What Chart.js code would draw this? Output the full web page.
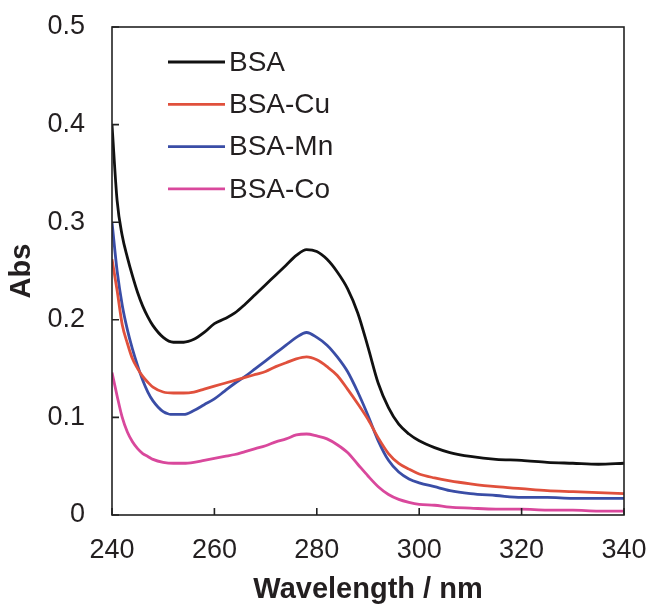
<!DOCTYPE html>
<html>
<head>
<meta charset="utf-8">
<script src="https://cdn.jsdelivr.net/npm/chart.js@4"></script>
<style>
  html, body { margin: 0; padding: 0; background: #fff; }
  #wrap { width: 651px; height: 605px; }
</style>
</head>
<body>
<div id="wrap"><canvas id="c" width="651" height="605"></canvas></div>
<script>
// Wavelength grid (nm)
const wavelength = [240, 241, 242, 243, 244, 245, 246, 247, 248, 250, 252, 254, 256, 258, 260,
  262, 264, 266, 268, 270, 272, 274, 276, 278, 280, 282, 284, 286, 288, 290, 292, 294, 296, 298,
  300, 303, 306, 310, 315, 320, 325, 330, 335, 340];

// Absorbance of each sample
const absBSA = [0.400, 0.322, 0.286, 0.264, 0.245, 0.228, 0.214, 0.203, 0.194, 0.182, 0.177, 0.177,
  0.180, 0.187, 0.196, 0.201, 0.207, 0.216, 0.226, 0.236, 0.246, 0.256, 0.266, 0.272, 0.270, 0.262,
  0.249, 0.232, 0.207, 0.172, 0.135, 0.110, 0.093, 0.083, 0.076, 0.069, 0.064, 0.060, 0.057, 0.056,
  0.054, 0.053, 0.052, 0.053];
const absCu = [0.262, 0.230, 0.195, 0.176, 0.160, 0.150, 0.142, 0.136, 0.131, 0.126, 0.125, 0.125,
  0.126, 0.129, 0.132, 0.135, 0.138, 0.141, 0.144, 0.147, 0.152, 0.156, 0.160, 0.162, 0.159, 0.152,
  0.143, 0.129, 0.114, 0.098, 0.079, 0.063, 0.053, 0.047, 0.042, 0.038, 0.035, 0.032, 0.029, 0.027,
  0.025, 0.024, 0.023, 0.022];
const absMn = [0.300, 0.250, 0.215, 0.190, 0.170, 0.153, 0.138, 0.126, 0.117, 0.106, 0.103, 0.103,
  0.107, 0.113, 0.119, 0.127, 0.135, 0.142, 0.150, 0.158, 0.166, 0.174, 0.182, 0.187, 0.182, 0.174,
  0.162, 0.147, 0.126, 0.102, 0.076, 0.056, 0.044, 0.037, 0.033, 0.029, 0.025, 0.022, 0.020, 0.018,
  0.018, 0.017, 0.017, 0.017];
const absCo = [0.146, 0.122, 0.100, 0.085, 0.075, 0.068, 0.063, 0.060, 0.057, 0.054, 0.053, 0.053,
  0.054, 0.056, 0.058, 0.060, 0.062, 0.065, 0.068, 0.071, 0.075, 0.078, 0.082, 0.083, 0.081, 0.078,
  0.072, 0.064, 0.052, 0.040, 0.029, 0.021, 0.016, 0.013, 0.011, 0.010, 0.008, 0.007, 0.006, 0.006,
  0.005, 0.005, 0.004, 0.004];

const seriesNames = ['BSA', 'BSA-Cu', 'BSA-Mn', 'BSA-Co'];
const seriesValues = [absBSA, absCu, absMn, absCo];
const seriesColors = ['#111111', '#e0503c', '#3a4da6', '#d9489c'];

const xTicks = [240, 260, 280, 300, 320, 340];
const yTicks = [0, 0.1, 0.2, 0.3, 0.4, 0.5];

const FONT = '"Liberation Sans", Arial, sans-serif';
const TEXT = '#231f20';

const datasets = seriesNames.map((name, i) => ({
  label: name,
  data: wavelength.map((w, k) => ({ x: w, y: seriesValues[i][k] })),
  borderColor: seriesColors[i],
  backgroundColor: seriesColors[i],
  borderWidth: 2.8,
  pointRadius: 0,
  cubicInterpolationMode: 'monotone',
  fill: false
}));

// Frame around the plot area, inward tick marks and the in-plot legend
const framePlugin = {
  id: 'frame',
  afterDatasetsDraw(chart) {
    const { ctx, chartArea: a, scales } = chart;
    ctx.save();
    ctx.strokeStyle = '#222';
    ctx.lineWidth = 1.6;
    ctx.strokeRect(a.left, a.top, a.right - a.left, a.bottom - a.top);
    ctx.beginPath();
    xTicks.forEach(v => {
      const px = scales.x.getPixelForValue(v);
      ctx.moveTo(px, a.bottom);
      ctx.lineTo(px, a.bottom - 7);
    });
    yTicks.forEach(v => {
      const py = scales.y.getPixelForValue(v);
      ctx.moveTo(a.left, py);
      ctx.lineTo(a.left + 7, py);
    });
    ctx.stroke();

    // legend
    const x0 = 168, x1 = 225, y0 = 62, dy = 42.3;
    ctx.font = '28px ' + FONT;
    ctx.textBaseline = 'middle';
    ctx.textAlign = 'left';
    seriesNames.forEach((name, i) => {
      const y = y0 + i * dy;
      ctx.strokeStyle = seriesColors[i];
      ctx.lineWidth = 2.8;
      ctx.beginPath();
      ctx.moveTo(x0, y);
      ctx.lineTo(x1, y);
      ctx.stroke();
      ctx.fillStyle = TEXT;
      ctx.fillText(name, x1 + 4, y + 1);
    });
    ctx.restore();
  }
};

new Chart(document.getElementById('c'), {
  type: 'line',
  data: { datasets },
  options: {
    responsive: false,
    animation: false,
    layout: { padding: { top: 27, right: 27, left: 0, bottom: 0 } },
    plugins: { legend: { display: false }, tooltip: { enabled: false } },
    scales: {
      x: {
        type: 'linear',
        min: 240, max: 340,
        afterBuildTicks: s => { s.ticks = xTicks.map(v => ({ value: v })); },
        afterFit: s => { s.height = 90; s.paddingLeft = 0; s.paddingRight = 0; },
        grid: { display: false, drawTicks: false },
        border: { display: false },
        ticks: { color: TEXT, font: { family: FONT, size: 27 }, padding: 19, maxRotation: 0 },
        title: { display: true, text: 'Wavelength / nm', color: TEXT,
          font: { family: FONT, size: 29, weight: 'bold' }, padding: { top: 0, bottom: -2 } }
      },
      y: {
        min: 0, max: 0.5,
        afterBuildTicks: s => { s.ticks = yTicks.map(v => ({ value: v })); },
        afterFit: s => { s.width = 112; s.paddingTop = 0; s.paddingBottom = 0; },
        grid: { display: false, drawTicks: false },
        border: { display: false },
        ticks: { color: TEXT, font: { family: FONT, size: 27 }, padding: 27,
          callback: v => (v === 0 ? '0' : v.toFixed(1)) },
        title: { display: true, text: 'Abs', color: TEXT,
          font: { family: FONT, size: 29, weight: 'bold' }, padding: { top: 5, bottom: 0 } }
      }
    }
  },
  plugins: [framePlugin]
});
</script>
</body>
</html>
